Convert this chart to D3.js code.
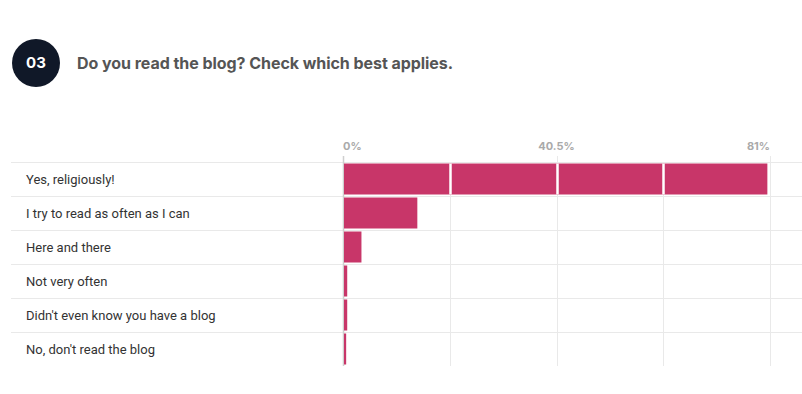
<!DOCTYPE html>
<html>
<head>
<meta charset="utf-8">
<script src="https://cdn.jsdelivr.net/npm/d3@7"></script>
<style>
  body { margin: 0; background: #fff; }
  svg { display: block; font-family: Inter, "Helvetica Neue", Arial, sans-serif; }
</style>
</head>
<body>
<svg id="chart" width="802" height="394"></svg>
<script>

  var questionNo = "03";
  var title = "Do you read the blog? Check which best applies.";
  var answers = [
    "Yes, religiously!",
    "I try to read as often as I can",
    "Here and there",
    "Not very often",
    "Didn't even know you have a blog",
    "No, don't read the blog"
  ];
  var shares = [80.5, 14.1, 3.5, 0.8, 0.8, 0.6];
  var axisMax = 81;
  var gridTicks = [0, 20.25, 40.5, 60.75, 81];
  var labelTicks = [0, 40.5, 81];

  var svg = d3.select('#chart');
  var barColor = '#c83669';

  // header
  svg.append('circle')
    .attr('cx', 36).attr('cy', 63).attr('r', 24)
    .attr('fill', '#101828');
  svg.append('text')
    .attr('x', 36).attr('y', 63)
    .attr('dy', '0.35em')
    .attr('text-anchor', 'middle')
    .attr('fill', '#fff')
    .style('font-size', '15px')
    .style('font-weight', 700)
    .text(questionNo);
  svg.append('text')
    .attr('x', 77).attr('y', 63)
    .attr('dy', '0.35em')
    .attr('fill', '#555')
    .style('font-size', '16px')
    .style('font-weight', 700)
    .style('letter-spacing', '-0.05px')
    .text(title);

  var x = d3.scaleLinear().domain([0, axisMax]).range([343, 770]);
  var y = d3.scaleBand().domain(answers).range([162, 366]).paddingInner(0).paddingOuter(0);

  // row separators
  svg.selectAll('line.row').data(answers).enter()
    .append('line')
      .attr('class', 'row')
      .attr('x1', 11).attr('x2', 802)
      .attr('y1', function (d) { return Math.round(y(d)) + 0.5; })
      .attr('y2', function (d) { return Math.round(y(d)) + 0.5; })
      .attr('stroke', '#e9e9e9');

  // vertical grid
  svg.selectAll('line.grid').data(gridTicks).enter()
    .append('line')
      .attr('class', 'grid')
      .attr('x1', function (d) { return Math.round(x(d)) + 0.5; })
      .attr('x2', function (d) { return Math.round(x(d)) + 0.5; })
      .attr('y1', function (d) { return labelTicks.indexOf(d) >= 0 ? 156 : 162; })
      .attr('y2', 366)
      .attr('stroke', function (d) { return d === 0 ? '#cfcfcf' : '#e9e9e9'; })
      .attr('stroke-width', function (d) { return d === 0 ? 1.5 : 1; });

  // bars
  var bar = svg.selectAll('g.bar').data(answers).enter()
    .append('g').attr('class', 'bar');

  bar.append('rect')
    .attr('x', x(0) + 1)
    .attr('y', function (d) { return y(d) + 1.5; })
    .attr('width', function (d, i) { return x(shares[i]) - x(0) - 1; })
    .attr('height', y.bandwidth() - 3)
    .attr('fill', barColor);

  // white grid breaks across long bars
  bar.each(function (d, i) {
    var g = d3.select(this);
    gridTicks.forEach(function (t) {
      if (t > 0 && t < shares[i]) {
        g.append('line')
          .attr('x1', Math.round(x(t)) + 0.5).attr('x2', Math.round(x(t)) + 0.5)
          .attr('y1', y(d) + 1.5).attr('y2', y(d) + y.bandwidth() - 1.5)
          .attr('stroke', '#fff')
          .attr('stroke-width', 2.5);
      }
    });
  });

  // answer labels
  svg.selectAll('text.answer').data(answers).enter()
    .append('text')
      .attr('class', 'answer')
      .attr('x', 26)
      .attr('y', function (d) { return y(d) + y.bandwidth() / 2; })
      .attr('dy', '0.35em')
      .attr('fill', '#333')
      .style('font-family', 'Roboto, Arial, sans-serif')
      .style('font-size', '13px')
      .text(function (d) { return d; });

  // tick labels
  svg.selectAll('text.tick').data(labelTicks).enter()
    .append('text')
      .attr('class', 'tick')
      .attr('x', function (d) { return x(d); })
      .attr('y', 146)
      .attr('dy', '0.35em')
      .attr('text-anchor', function (d, i) { return i === 0 ? 'start' : (i === labelTicks.length - 1 ? 'end' : 'middle'); })
      .attr('fill', '#aaa')
      .style('font-size', '11px')
      .style('font-weight', 700)
      .text(function (d) { return d + '%'; });

</script>
</body>
</html>
